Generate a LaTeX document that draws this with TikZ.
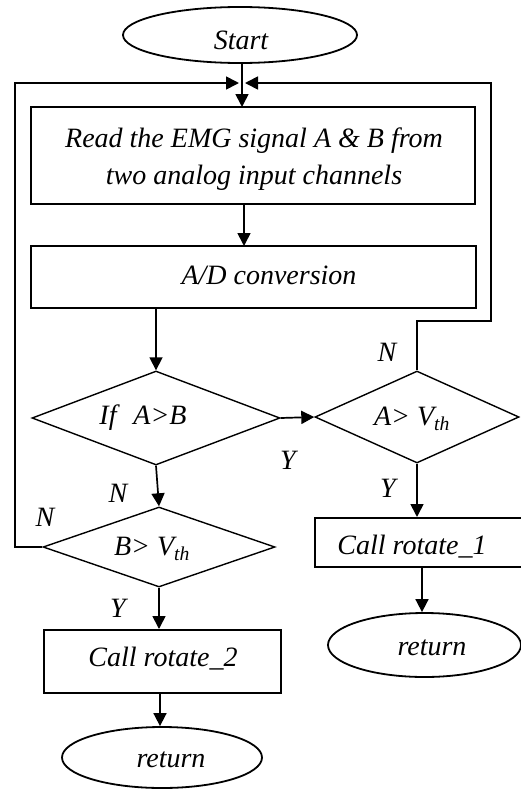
\documentclass[tikz,border=0pt]{standalone}
\usepackage{fontspec}
\setmainfont{Liberation Serif}
\usetikzlibrary{shapes.geometric,arrows.meta}
\begin{document}
\begin{tikzpicture}[x=1pt,y=-1pt,
  every node/.style={font=\fontsize{28}{37}\selectfont\itshape},
  boxnode/.style={draw,line width=2pt,rectangle,inner sep=0pt},
  decnode/.style={draw,line width=1.4pt,diamond,inner sep=0pt},
  termnode/.style={draw,line width=1.8pt,ellipse,inner sep=0pt},
  txt/.style={inner sep=0pt,align=center},
  lbl/.style={inner sep=0pt},
  tip/.style={-{Triangle[length=13pt,width=13pt]}},
  arr/.style={line width=1.7pt,tip},
  ln/.style={line width=1.7pt}]
\useasboundingbox (0,0) rectangle (521,790);
\clip (0,0) rectangle (521,790);
% shapes
\node[termnode,minimum width=234pt,minimum height=56pt] (start) at (240,35) {};
\node[txt] (tstart) at (241,40) {Start};
\node[boxnode,minimum width=444pt,minimum height=97pt] (box1) at (253,155.5) {};
\node[txt] (tbox1) at (254,159) {Read the EMG signal A \& B from\\two analog input channels};
\node[boxnode,minimum width=445pt,minimum height=62pt] (ad) at (253.5,277) {};
\node[txt] (tad) at (269,275) {A/D conversion};
\node[decnode,minimum width=248pt,minimum height=94pt] (d1) at (156,418) {};
\node[txt] (td1) at (143,418) {If\hspace{0.6em}A\textgreater B};
\node[decnode,minimum width=204pt,minimum height=92pt] (d2) at (417,417) {};
\node[txt] (td2) at (412,419) {A\textgreater\ V\textsubscript{th}};
\node[decnode,minimum width=232pt,minimum height=80pt] (d3) at (159,547) {};
\node[txt] (td3) at (152,549) {B\textgreater\ V\textsubscript{th}};
\node[boxnode,minimum width=237pt,minimum height=63pt] (box3) at (162.5,661.5) {};
\node[txt] (tbox3) at (163,659) {Call rotate\_2};
\node[boxnode,minimum width=230pt,minimum height=49pt] (box2) at (430,542.5) {};
\node[txt] (tbox2) at (412,547) {Call rotate\_1};
\node[termnode,minimum width=200pt,minimum height=61pt] (ret2) at (162,757.5) {};
\node[txt] (tret2) at (171,760) {return};
\node[termnode,minimum width=193pt,minimum height=64pt] (ret1) at (424.5,645) {};
\node[txt] (tret1) at (432,648) {return};
% labels
\node[lbl] (nA) at (387,352) {N};
\node[lbl] (yA) at (288,460) {Y};
\node[lbl] (nB) at (118,493) {N};
\node[lbl] (nC) at (45,517) {N};
\node[lbl] (yB) at (118,608) {Y};
\node[lbl] (yC) at (388,488) {Y};
% junction coordinates
\coordinate (jl) at (239,83);
\coordinate (jr) at (245,83);
\coordinate (lc) at (15,83);
\coordinate (rc) at (491,83);
\coordinate (rk) at (491,321);
\coordinate (b3s) at (160,693);
\coordinate (b2s) at (422,567);
% connectors
\draw[arr] (242,63) -- (242,107);
\draw[arr] (244,204) -- (244,246);
\draw[arr] (156,308) -- (d1.north);
\draw[arr] (d1.east) -- (d2.west);
\draw[arr] (d1.south) -- (d3.north);
\draw[arr] (d3.south) -- (d3.south |- box3.north);
\draw[arr] (b3s) -- (b3s |- ret2.north);
\draw[arr] (d2.south) -- (d2.south |- box2.north);
\draw[arr] (b2s) -- (b2s |- ret1.north);
\draw[ln,tip] (d3.west) -- (d3.west -| lc) -- (lc) -- (jl);
\draw[ln,tip] (d2.north) -- (d2.north |- rk) -- (rk) -- (rc) -- (jr);
\end{tikzpicture}
\end{document}
